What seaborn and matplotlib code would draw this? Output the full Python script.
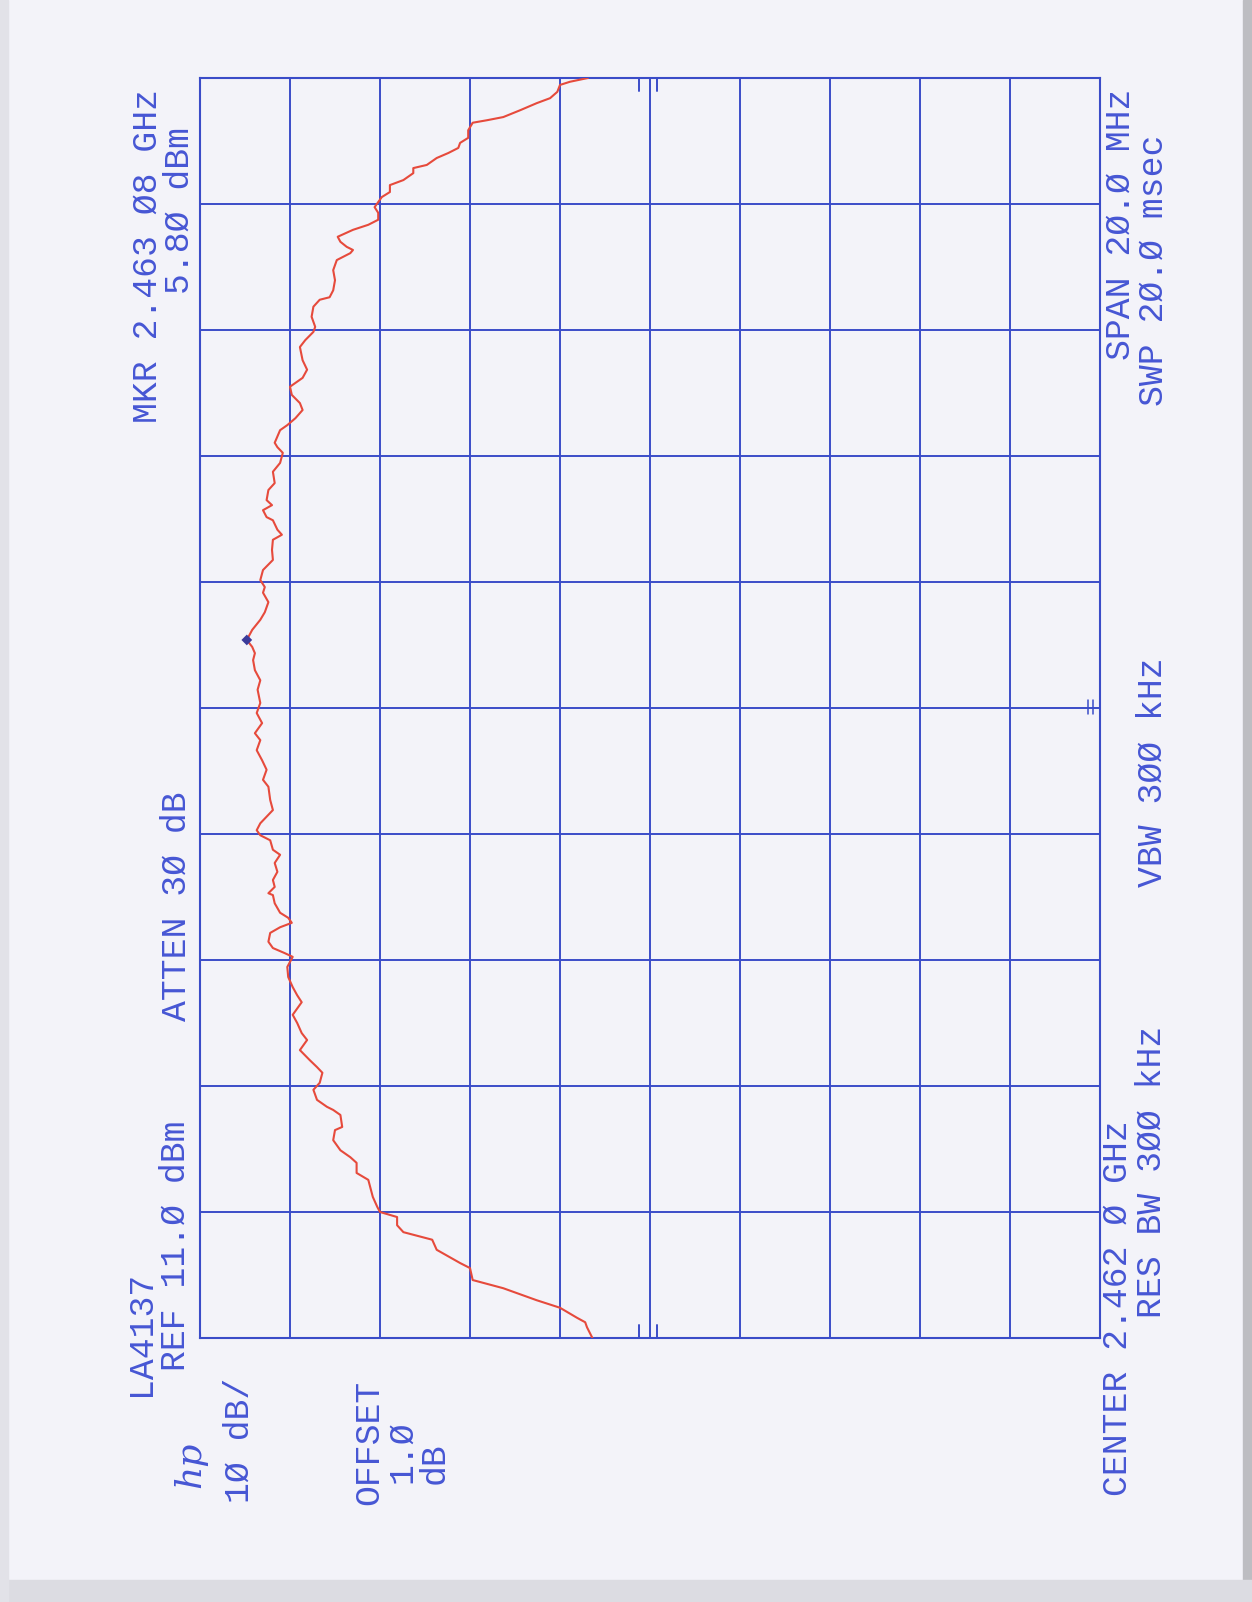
import matplotlib
matplotlib.use("Agg")
import matplotlib.pyplot as plt
import seaborn as sns
import pandas as pd
from matplotlib.patches import Rectangle

# ---------------- data ----------------
# frequency offset from centre (MHz), centre = 2.462 GHz, span 20 MHz
freq_mhz = [
    -10.00, -9.83, -9.75, -9.68, -9.52, -9.40, -9.21, -9.08, -8.89, -8.81,
    -8.60, -8.44, -8.32, -8.21, -8.08, -8.00, -7.92, -7.76, -7.60, -7.49,
    -7.38, -7.22, -7.13, -7.02, -6.86, -6.70, -6.65, -6.46, -6.38,
    -6.33, -6.22, -6.06, -5.95, -5.79, -5.70, -5.59, -5.43, -5.27, -5.16,
    -5.00, -4.87, -4.67, -4.56, -4.43, -4.27, -4.11, -3.95, -3.89, -3.81,
    -3.71, -3.57, -3.48, -3.41, -3.33, -3.25, -3.10, -2.97, -2.94, -2.84,
    -2.73, -2.60, -2.46, -2.33, -2.25, -2.10, -2.02, -1.94, -1.83,
    -1.62, -1.46, -1.25, -1.14, -0.98, -0.83, -0.67, -0.51, -0.40, -0.24,
    -0.08, 0.08, 0.29, 0.44, 0.60, 0.76, 0.87, 0.97, 1.08, 1.24,
    1.40, 1.52, 1.68, 1.83, 1.92, 2.03, 2.19, 2.35, 2.51, 2.67,
    2.75, 2.83, 2.98, 3.03, 3.14, 3.22, 3.30, 3.46, 3.57, 3.75,
    3.89, 4.05,
    4.14, 4.21, 4.41, 4.49, 4.60, 4.73, 4.84, 4.97, 5.10, 5.24,
    5.37, 5.52, 5.73, 5.84, 5.97, 6.05, 6.21, 6.37, 6.48, 6.52,
    6.63, 6.79, 6.95, 7.11, 7.22, 7.27, 7.32, 7.40, 7.48, 7.59,
    7.67, 7.75, 7.86, 7.95, 8.11, 8.19, 8.30, 8.38, 8.49, 8.57,
    8.62, 8.73, 8.81, 8.89, 8.97, 9.05, 9.17, 9.29, 9.33, 9.38,
    9.49, 9.60, 9.68, 9.78, 9.89, 9.94, 10.00,
]
# measured level (dBm)
level_dbm = [
    -32.6, -32.0, -31.8, -30.9, -29.0, -26.4, -22.7, -19.3, -19.0, -17.9,
    -15.3, -14.8, -11.6, -10.9, -10.9, -9.0, -8.7, -8.2, -7.9, -7.7,
    -6.4, -6.4, -5.7, -4.6, -3.8, -4.0, -4.8, -4.6, -3.8,
    -3.1, -2.0, -1.6, -2.3, -2.6, -2.0, -1.2, -0.1, -0.9, -0.3,
    0.2, 0.7, -0.3, 0.2, 0.7, 1.2, 1.3, 0.7, 1.6, 2.9,
    3.4, 3.2, 2.1, 0.8, 1.2, 2.1, 2.7, 2.9, 3.4, 2.7,
    2.9, 2.4, 2.7, 2.1, 2.9, 3.2, 4.3, 4.7, 4.3,
    2.9, 3.2, 3.4, 4.0, 3.6, 4.1, 4.7, 4.3, 4.9, 4.1,
    4.7, 4.3, 4.6, 4.3, 4.9, 5.1, 4.9, 5.2, 5.8, 5.2,
    4.3, 3.8, 3.4, 4.0, 3.8, 4.3, 4.0, 2.9, 3.0, 2.9,
    1.9, 2.4, 2.9, 3.6, 4.0, 3.0, 3.6, 3.4, 2.7, 2.9,
    2.1, 1.8,
    2.4, 2.7, 2.1, 1.3, 0.4, -0.4, -0.1, 0.8, 1.0, -0.4,
    -0.9, -0.4, -0.1, -0.7, -1.6, -1.8, -1.4, -1.6, -2.3, -3.4,
    -3.8, -4.0, -3.8, -4.2, -5.7, -6.0, -5.3, -4.6, -4.3, -6.0,
    -7.7, -8.8, -8.8, -8.4, -9.2, -10.1, -10.1, -11.6, -12.7, -12.7,
    -14.2, -15.3, -16.6, -17.7, -17.9, -18.8, -18.8, -19.3, -20.9, -22.7,
    -24.6, -26.4, -27.9, -28.7, -29.0, -30.1, -32.1,
]
marker_freq = [1.08]
marker_level = [5.80]

ref_level = 11.0          # dBm
db_per_div = 10.0
n_div = 10
span_mhz = 20.0

# small HP frame marks (dBm / MHz)
frame_mark_levels = [-37.8, -39.8]
center_mark_levels = [-87.7, -88.2]

# annotation texts
txt_mkr = "MKR 2.463 Ø8 GHz"
txt_mkr_val = "5.8Ø dBm"
txt_id = "LA4137"
txt_ref = "REF 11.Ø dBm"
txt_atten = "ATTEN 3Ø dB"
txt_vbw = "VBW 3ØØ kHz"
txt_span = "SPAN 2Ø.Ø MHz"
txt_swp = "SWP 2Ø.Ø msec"
txt_center = "CENTER 2.462 Ø GHz"
txt_rbw = "RES BW 3ØØ kHz"
txt_scale = "1Ø dB/"
txt_offset = ["OFFSET", "1.Ø", "dB"]

# ---------------- styling ----------------
W, H = 1252, 1602
paper = "#f3f3f9"
grid_c = "#3a4cc8"
text_c = "#4656d4"
trace_c = "#e64a3c"

sns.set_theme(style="white")
plt.rcParams["font.family"] = ["Liberation Mono", "DejaVu Sans Mono"]

fig = plt.figure(figsize=(W / 100, H / 100), dpi=100)
fig.patch.set_facecolor(paper)

# scan edges
fig.add_artist(Rectangle((1243 / W, 0), 1 - 1243 / W, 1, transform=fig.transFigure,
                         color="#bdbdc2", zorder=0))
fig.add_artist(Rectangle((0, 0), 1, 22 / H, transform=fig.transFigure,
                         color="#dcdce2", zorder=0))
fig.add_artist(Rectangle((0, 0), 8 / W, 1, transform=fig.transFigure,
                         color="#e2e2e8", zorder=0))

x0, x1 = 200, 1100
y0, y1 = 78, 1338
ax = fig.add_axes([x0 / W, 1 - y1 / H, (x1 - x0) / W, (y1 - y0) / H])
ax.set_facecolor(paper)

df = pd.DataFrame({"level": level_dbm, "freq": freq_mhz})
sns.lineplot(data=df, x="level", y="freq", sort=False, estimator=None,
             color=trace_c, linewidth=1.5, ax=ax, zorder=3)
sns.scatterplot(x=marker_level, y=marker_freq, color="#3a3a9a", s=30,
                marker="D", ax=ax, zorder=4, edgecolor="none")

bottom_level = ref_level - n_div * db_per_div
ax.set_xlim(ref_level, bottom_level)
ax.set_ylim(-span_mhz / 2, span_mhz / 2)
ax.set_xticks([ref_level - i * db_per_div for i in range(n_div + 1)])
ax.set_yticks([-span_mhz / 2 + i * span_mhz / n_div for i in range(n_div + 1)])
ax.grid(True, color=grid_c, linewidth=1.4)
ax.tick_params(length=0, labelbottom=False, labelleft=False)
ax.set_xlabel("")
ax.set_ylabel("")
for s in ax.spines.values():
    s.set_color(grid_c)
    s.set_linewidth(1.5)
    s.set_visible(True)

# HP frame tick marks
for lv in frame_mark_levels:
    ax.axvline(lv, ymin=0.99, ymax=1.0, color=grid_c, linewidth=1.4)
    ax.axvline(lv, ymin=0.0, ymax=0.01, color=grid_c, linewidth=1.4)
for lv in center_mark_levels:
    ax.plot([lv, lv], [-0.1, 0.12], color=grid_c, linewidth=1.1)

# ---------------- text ----------------
fs = 25


def vtext(xc, yc, s, size=fs, color=text_c, **kw):
    fig.text(xc / W, 1 - yc / H, s, rotation=90, ha="center", va="center",
             fontsize=size, color=color, **kw)


vtext(147, 256, txt_mkr)
vtext(179, 210, txt_mkr_val)
vtext(141, 1333, txt_id)
vtext(175, 1246, txt_ref)
vtext(176, 906, txt_atten)
vtext(1152, 772, txt_vbw)
vtext(1120, 224, txt_span)
vtext(1153, 270, txt_swp)
vtext(1117, 1308, txt_center)
vtext(1151, 1172, txt_rbw)
vtext(239, 1440, txt_scale)
vtext(369, 1442, txt_offset[0])
vtext(402, 1452, txt_offset[1])
vtext(434, 1463, txt_offset[2])
vtext(190, 1465, "hp", size=26, fontstyle="italic", family="DejaVu Serif")

fig.savefig("out.png", dpi=100, facecolor=fig.get_facecolor())
